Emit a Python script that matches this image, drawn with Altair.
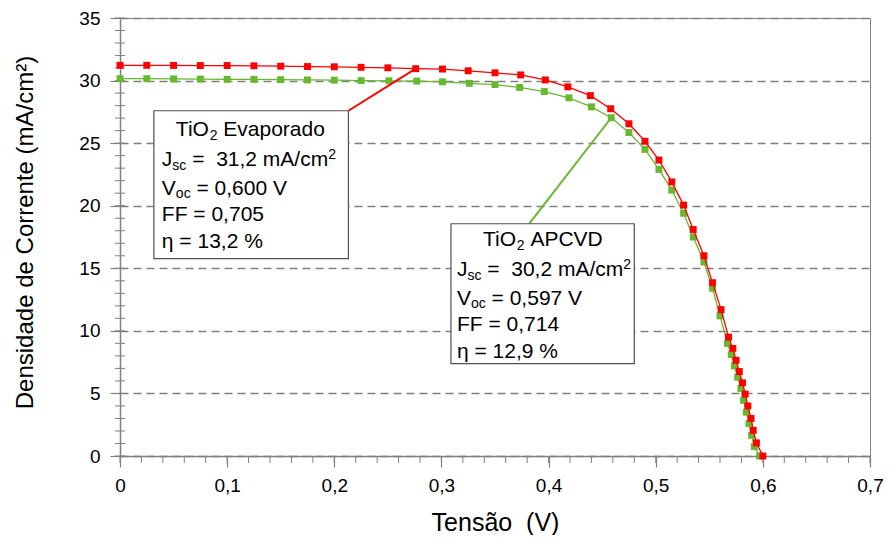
import altair as alt
import pandas as pd

# ---------------- data ----------------
v_evap = [0.000, 0.025, 0.050, 0.075, 0.100, 0.125, 0.150, 0.175, 0.200, 0.225,
          0.250, 0.276, 0.301, 0.325, 0.350, 0.374, 0.397, 0.418, 0.439, 0.458,
          0.475, 0.490, 0.503, 0.515, 0.526, 0.535, 0.545, 0.553, 0.561, 0.568,
          0.572, 0.575, 0.578, 0.581, 0.5835, 0.586, 0.589, 0.591, 0.594, 0.600]
j_evap = [31.22, 31.22, 31.21, 31.2, 31.2, 31.18, 31.15, 31.12, 31.1, 31.06,
          31.02, 30.95, 30.92, 30.78, 30.62, 30.45, 30.05, 29.5, 28.8, 27.75,
          26.55, 25.15, 23.65, 21.9, 20.05, 18.1, 16.0, 13.85, 11.7, 9.5,
          8.6, 7.65, 6.75, 5.85, 4.95, 4.0, 3.0, 2.05, 1.05, 0.0]

v_apcvd = [0.000, 0.025, 0.050, 0.075, 0.100, 0.125, 0.150, 0.175, 0.200, 0.225,
           0.251, 0.277, 0.301, 0.326, 0.350, 0.373, 0.396, 0.419, 0.440, 0.4585,
           0.475, 0.490, 0.503, 0.515, 0.526, 0.535, 0.545, 0.553, 0.560, 0.567,
           0.5705, 0.5735, 0.5765, 0.5795, 0.582, 0.5845, 0.587, 0.5895, 0.592, 0.597]
j_apcvd = [30.15, 30.15, 30.13, 30.12, 30.1, 30.1, 30.07, 30.05, 30.03, 30.0,
           29.98, 29.96, 29.9, 29.78, 29.68, 29.45, 29.12, 28.62, 27.9, 27.03,
           25.85, 24.5, 22.9, 21.25, 19.4, 17.5, 15.5, 13.4, 11.2, 9.0,
           8.1, 7.2, 6.3, 5.4, 4.45, 3.5, 2.6, 1.65, 0.75, 0.0]

X_TICKS = [0.0, 0.1, 0.2, 0.3, 0.4, 0.5, 0.6, 0.7]
Y_TICKS = [0, 5, 10, 15, 20, 25, 30, 35]
X_MINOR = [round(0.02 * i, 2) for i in range(36)]
Y_MINOR = list(range(0, 36))

box_evap_lines = [
    [("TiO", "n"), ("2", "sub"), (" Evaporado", "n")],
    [("J", "n"), ("sc", "sub"), (" =  31,2 mA/cm", "n"), ("2", "sup")],
    [("V", "n"), ("oc", "sub"), (" = 0,600 V", "n")],
    [("FF = 0,705", "n")],
    [("η = 13,2 %", "n")],
]
box_apcvd_lines = [
    [("TiO", "n"), ("2", "sub"), (" APCVD", "n")],
    [("J", "n"), ("sc", "sub"), (" =  30,2 mA/cm", "n"), ("2", "sup")],
    [("V", "n"), ("oc", "sub"), (" = 0,597 V", "n")],
    [("FF = 0,714", "n")],
    [("η = 12,9 %", "n")],
]

# ---------------- layout / style ----------------
W, H = 750, 438
GRAY = "#808080"
RED = "#ff0000"
GREEN = "#66b82e"
FONT = "Liberation Sans"
MAIN, SMALL = 21, 14

boxes = [
    dict(v=0.0316, v2=0.2132, j=27.59, j2=15.77, lines=box_evap_lines,
         title_dx=22, body_dx=8, baselines=[25.6, 55.6, 84, 110.6, 137.3],
         color=RED, target=11),
    dict(v=0.3089, v2=0.48, j=18.56, j2=7.38, lines=box_apcvd_lines,
         title_dx=32, body_dx=6, baselines=[22.6, 52.6, 81, 107.6, 134.3],
         color=GREEN, target=19),
]
callout_start = [(0.2132, 27.59), (0.382, 18.56)]

ADV = {'T': 611, 'i': 222, 'O': 778, ' ': 278, 'E': 667, 'v': 500, 'a': 556, 'p': 556,
       'o': 556, 'r': 333, 'd': 556, 'J': 500, 's': 500, 'c': 500, '=': 584, ',': 278,
       'm': 833, 'A': 667, '/': 278, 'V': 667, 'F': 611, 'η': 556, '%': 889, 'P': 667,
       'C': 722, 'D': 722}
for d in "0123456789":
    ADV[d] = 556


def tw(s, size):
    return sum(ADV.get(c, 556) for c in s) * size / 1000.0


xscale = alt.Scale(domain=[0, 0.7], nice=False, zero=False)
yscale = alt.Scale(domain=[0, 35], nice=False, zero=False)

x_axis = alt.Axis(
    values=X_TICKS, labelExpr="replace(format(datum.value, '.1~f'), '.', ',')",
    title="Tensão\u00a0\u00a0(V)", grid=False, tickSize=11, tickColor=GRAY, tickWidth=1.2,
    domainColor=GRAY, domainWidth=1.5, labelFontSize=19, labelFont=FONT,
    labelColor="black", labelPadding=9, labelFlush=False, labelOverlap=False,
    titleFont=FONT, titleFontSize=25, titleFontWeight="normal", titleColor="black",
    titleX=W / 2, titleY=74, titleBaseline="alphabetic", titleAlign="center")
y_axis = alt.Axis(
    values=Y_TICKS, format="d", title="Densidade de Corrente (mA/cm²)",
    grid=True, gridColor=GRAY, gridDash=[8, 5], gridWidth=1.3,
    tickSize=10, tickColor=GRAY, tickWidth=1.2, domainColor=GRAY, domainWidth=1.5,
    labelFontSize=19, labelFont=FONT, labelColor="black", labelPadding=10,
    labelOverlap=False, titleFont=FONT, titleFontSize=24, titleFontWeight="normal",
    titleColor="black", titleAngle=270, titleX=-88, titleY=214,
    titleBaseline="alphabetic", titleAlign="center")

X = alt.X("v:Q", scale=xscale, axis=x_axis)
Y = alt.Y("j:Q", scale=yscale, axis=y_axis)

layers = []

# minor ticks
layers.append(alt.Chart(pd.DataFrame({"v": X_MINOR})).mark_rule(color=GRAY, strokeWidth=1)
              .encode(x=X, y=alt.value(H), y2=alt.value(H + 7)))
layers.append(alt.Chart(pd.DataFrame({"j": Y_MINOR})).mark_rule(color=GRAY, strokeWidth=1)
              .encode(y=Y, x=alt.value(-5), x2=alt.value(5)))

df_g = pd.DataFrame({"v": v_apcvd, "j": j_apcvd})
df_r = pd.DataFrame({"v": v_evap, "j": j_evap})

for df, col in [(df_g, GREEN), (df_r, RED)]:
    layers.append(alt.Chart(df).mark_line(color=col, strokeWidth=1.3).encode(x=X, y=Y))
    layers.append(alt.Chart(df).mark_square(color=col, size=48, opacity=1).encode(x=X, y=Y))

# callouts
series = [(v_evap, j_evap), (v_apcvd, j_apcvd)]
for b, (sv, sj), (cv, cj) in zip(boxes, series, callout_start):
    t = b["target"]
    dfc = pd.DataFrame({"v": [cv], "j": [cj], "v2": [sv[t]], "j2": [sj[t]]})
    layers.append(alt.Chart(dfc).mark_rule(color=b["color"], strokeWidth=2)
                  .encode(x=X, y=Y, x2="v2:Q", y2="j2:Q"))

# boxes + text
for b in boxes:
    dfb = pd.DataFrame({"v": [b["v"]], "v2": [b["v2"]], "j": [b["j"]], "j2": [b["j2"]]})
    layers.append(alt.Chart(dfb).mark_rect(fill="white", stroke="#505050", strokeWidth=1.2)
                  .encode(x=X, x2="v2:Q", y=Y, y2="j2:Q"))
    anchor = pd.DataFrame({"v": [b["v"]], "j": [b["j"]]})
    for li, (segs, base) in enumerate(zip(b["lines"], b["baselines"])):
        dx = b["title_dx"] if li == 0 else b["body_dx"]
        for text, kind in segs:
            size = MAIN if kind == "n" else SMALL
            dy = base + (3.5 if kind == "sub" else (-7.5 if kind == "sup" else 0))
            stripped = text.lstrip(" ")
            lead = tw(text[:len(text) - len(stripped)], size)
            layers.append(
                alt.Chart(anchor).mark_text(
                    text=stripped.replace(" ", "\u00a0"), align="left", baseline="alphabetic",
                    dx=dx + lead, dy=dy, fontSize=size, font=FONT, color="black")
                .encode(x=X, y=Y))
            dx += tw(text, size)

chart = alt.layer(*layers).properties(
    width=W, height=H,
    autosize=alt.AutoSizeParams(type="none"),
    padding={"left": 112, "top": 10, "right": 14, "bottom": 79},
).configure_view(stroke=GRAY, strokeWidth=1)

chart.save("out.html", embed_options={"renderer": "svg", "actions": False})
